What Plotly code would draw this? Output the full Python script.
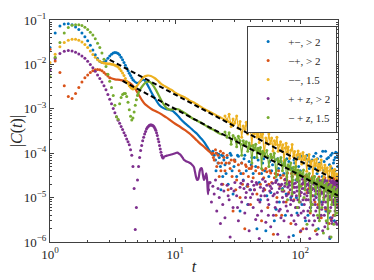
import plotly.graph_objects as go

# ---------------- data ----------------
series_names = ["+−, > 2", "−+, > 2", "−−, 1.5", "+ + <i>z</i>, > 2", "− + <i>z</i>, 1.5"]

x_tick_vals = [1, 10, 100]
x_tick_text = ["10<sup>0</sup>", "10<sup>1</sup>", "10<sup>2</sup>"]
y_tick_vals = [1e-6, 1e-5, 1e-4, 1e-3, 1e-2, 1e-1]
y_tick_text = ["10<sup>−6</sup>", "10<sup>−5</sup>", "10<sup>−4</sup>",
               "10<sup>−3</sup>", "10<sup>−2</sup>", "10<sup>−1</sup>"]

# early, well separated samples (t, |C|)
blue_dots = [(1.0,0.024),(1.1,0.051),(1.2,0.073),(1.3,0.081),(1.4,0.082),(1.5,0.078),(1.6,0.070),
             (1.7,0.061),(1.8,0.051),(1.9,0.042),(2.0,0.034),(2.1,0.027),(2.2,0.021),(2.3,0.0165),
             (2.4,0.0135),(2.5,0.0117),(2.6,0.0110),(2.7,0.0112),(2.8,0.0121),(2.9,0.0138),(3.0,0.0155),
             (3.1,0.0170),(3.2,0.0180),(3.3,0.0185),(3.4,0.0184),(3.5,0.0176),(3.6,0.0162),(3.7,0.0145),
             (3.8,0.0127),(3.9,0.0110),(4.0,0.0096),(4.1,0.0083),(4.2,0.0072),(4.3,0.0063),(4.4,0.0056),
             (4.5,0.0050),(4.6,0.0045)]
orange_dots = [(1.0,0.022),(1.1,0.012),(1.2,0.0066),(1.3,0.0033),(1.4,0.0019),(1.5,0.0017),(1.6,0.0022),
               (1.7,0.0030),(1.8,0.0040),(1.9,0.0050),(2.0,0.0058),(2.1,0.0066),(2.2,0.0072),(2.3,0.0076),
               (2.4,0.0077),(2.5,0.0076),(2.6,0.0072),(2.7,0.0066),(2.8,0.0060),(2.9,0.0055),(3.0,0.0050)]
yellow_dots = [(1.0,0.011),(1.1,0.017),(1.2,0.025),(1.3,0.031),(1.4,0.035),(1.5,0.037),(1.6,0.037),
               (1.7,0.035),(1.8,0.032),(1.9,0.028),(2.0,0.024),(2.1,0.020),(2.2,0.0168),(2.3,0.0145),
               (2.4,0.0128),(2.5,0.0117),(2.6,0.0111),(2.7,0.0107),(2.8,0.0105),(2.9,0.0104),(3.0,0.0103),
               (3.1,0.0101),(3.2,0.0099),(3.3,0.0096),(3.4,0.0092),(3.5,0.0087),(3.6,0.0080),(3.7,0.0072),
               (3.8,0.0064),(3.9,0.0056),(4.0,0.0048),(4.1,0.0042),(4.2,0.0037),(4.3,0.0033),(4.4,0.0031),
               (4.5,0.0029),(4.6,0.0028),(4.7,0.0029),(4.8,0.0030)]
purple_dots = [(1.0,0.0076),(1.1,0.0135),(1.2,0.0175),(1.3,0.0198),(1.4,0.0205),(1.5,0.0200),(1.6,0.0188),
               (1.7,0.0172),(1.8,0.0155),(1.9,0.0137),(2.0,0.0118),(2.1,0.0100),(2.2,0.0084),(2.3,0.0070),
               (2.4,0.0058),(2.5,0.0048),(2.6,0.0040),(2.7,0.0033),(2.8,0.0027),(2.9,0.0021),(3.0,0.00165),
               (3.1,0.0013),(3.2,0.00102),(3.3,0.00082),(3.4,0.00066),(3.5,0.00055),(3.6,0.00047),
               (3.7,0.00040),(3.8,0.00034),(3.9,0.00029),(4.0,0.00025),(4.1,0.00021),(4.2,0.00018),
               (4.3,0.000155),(4.4,0.00012),(4.5,0.00009),(4.6,0.00005),(4.7,0.000016),(4.8,0.0000019),
               (4.9,0.000006),(5.0,0.000025),(5.1,0.00005),(5.2,0.00008),(5.3,0.000115),(5.4,0.00015),
               (5.5,0.00019),(5.6,0.00023),(5.7,0.00027),(5.8,0.00031),(5.9,0.00035),(6.0,0.00038),
               (6.1,0.00040),(6.2,0.00042),(6.3,0.00043),(6.4,0.00043),(6.5,0.00043),(6.6,0.00042),
               (6.7,0.00041),(6.8,0.00039),(6.9,0.00036),(7.0,0.00033),(7.1,0.00029),(7.2,0.00025),
               (7.3,0.00021),(7.4,0.00018),(7.5,0.00015),(7.6,0.000125),(7.7,0.000105),(7.8,0.00009),
               (7.9,0.000082),(8.0,0.000078)]
green_dots = [(1.0,0.0053),(1.1,0.0145),(1.2,0.031),(1.3,0.051),(1.4,0.068),(1.5,0.076),(1.6,0.078),
              (1.7,0.078),(1.8,0.075),(1.9,0.069),(2.0,0.061),(2.1,0.053),(2.2,0.046),(2.3,0.038),
              (2.4,0.030),(2.5,0.024),(2.6,0.018),(2.7,0.013),(2.8,0.0090),(2.9,0.0060),(3.0,0.0042),
              (3.1,0.0030),(3.2,0.0020),(3.3,0.0012),(3.4,0.00066),(3.5,0.00058),(3.6,0.0013),
              (3.7,0.0018),(3.8,0.0021),(3.9,0.0022),(4.0,0.0022),(4.1,0.0019),(4.2,0.0014),
              (4.3,0.00095),(4.4,0.00068),(4.5,0.00056),(4.6,0.00062),(4.7,0.00085),(4.8,0.0012),
              (4.9,0.0016),(5.0,0.0020)]

# later, densely sampled stretches that merge into a solid curve (t, |C|)
blue_curve = [(4.6,0.0045),(4.8,0.0040),(5.0,0.0038),(5.2,0.0040),(5.4,0.0044),(5.6,0.0045),(5.8,0.0041),
              (6.0,0.0035),(6.3,0.0027),(6.6,0.0021),(7.0,0.0016),(7.5,0.0012),(8.0,0.00105),(8.5,0.00098),
              (9.0,0.00095),(9.5,0.00090),(10,0.00080),(10.5,0.00070),(11,0.00060),(12,0.00047),(13,0.00039),
              (14,0.00032),(15,0.00027),(16,0.00022),(17,0.00018),(18,0.00014),(19,0.00011),(20,0.00009)]
orange_curve = [(3.0,0.0050),(3.3,0.0046),(3.6,0.0045),(3.9,0.0043),(4.2,0.0040),(4.5,0.0035),(4.8,0.0028),
                (5.1,0.0021),(5.4,0.0016),(5.7,0.0013),(6.0,0.00115),(6.5,0.00098),(7.0,0.00088),(7.5,0.00080),
                (8.0,0.00071),(8.5,0.00064),(9.0,0.00057),(10,0.00046),(11,0.00039),(12,0.00033),(13,0.00028),
                (14,0.00023),(15,0.00019),(16,0.00016),(17,0.00014),(18,0.00012),(19,0.000105),(20,0.00009)]
yellow_curve = [(4.8,0.0030),(5.0,0.0034),(5.3,0.0043),(5.6,0.0052),(6.0,0.0056),(6.4,0.0055),(6.8,0.0050),
                (7.2,0.0044),(7.6,0.0038),(8.0,0.0034),(8.5,0.0031),(9.0,0.0028),(9.5,0.0026),(10,0.0023),
                (11,0.0020),(12,0.0018),(13,0.00155),(14,0.0014),(15,0.00125),(16,0.00112),(17,0.00100),
                (18,0.00092),(19,0.00085),(20,0.00079),(22,0.00068),(24,0.00060),(26,0.00053),(28,0.00048),
                (30,0.00044)]
purple_curve = [(8.0,0.000078),(8.2,0.000084),(8.6,0.000088),(9.0,0.000091),(9.5,0.000095),(10.0,0.0001),
                (10.4,0.000103),(10.8,0.000096),(11.1,0.00009),(11.5,0.000078),(11.8,0.00007),(12.2,0.000066),
                (12.5,0.000064),(12.9,0.000062),(13.3,0.000059),(13.7,0.000054),(14.1,0.000049),(14.4,0.000038),
                (14.7,0.000029),(15.0,0.000025),(15.3,0.000026),(15.7,0.000039),(16.0,0.000045),(16.3,0.000046),
                (16.6,0.000035),(17.0,0.000025),(17.3,0.000028),(17.7,0.000035),(18.0,0.000025),(18.3,0.000012),
                (18.6,0.000022),(19.0,0.00002)]
green_curve = [(5.0,0.0020),(5.2,0.0026),(5.5,0.0033),(5.8,0.0039),(6.0,0.0041),(6.3,0.0040),(6.6,0.0035),
               (7.0,0.0027),(7.4,0.0020),(7.8,0.0015),(8.2,0.0012),(8.6,0.00102),(9.0,0.00096),(9.5,0.00097),
               (10.0,0.00100),(10.5,0.00098),(11,0.00092),(12,0.00080),(13,0.00068),(14,0.00059),(15,0.00054),
               (16,0.00049),(17,0.00044),(18,0.00040),(19,0.00036),(20,0.00034),(22,0.00029),(24,0.00026)]

# late, noise dominated samples (t, |C|)
blue_noise = [(20.5,9e-5),(21,7e-5),(21.5,1e-4),(22,6e-5),(22.5,8e-5),(23,5e-5),(23.5,9e-5),(24,3e-5),
              (24.5,7e-5),(25,5.5e-5),(26,8e-5),(26.5,2e-5),(27,6e-5),(28,9e-5),(28.5,4e-5),(29,1.2e-5),
              (30,7e-5),(31,3e-5),(32,8.5e-5),(33,5e-6),(34,6e-5),(35,2.5e-5),(36,9e-5),(37,4e-5),(38,7e-6),
              (39,6.5e-5),(40,1.5e-5),(41,8e-5),(42,3.5e-5),(44,5e-5),(45,2e-6),(46,7e-5),(47,2.2e-5),
              (48,9e-6),(50,6e-5),(52,4e-5),(53,1.8e-6),(55,8e-5),(56,3e-5),(58,1.3e-5),(60,5.5e-5),(62,3e-6),
              (63,7e-5),(65,2.5e-5),(67,4.5e-5),(68,8e-6),(70,6.5e-5),(72,1.6e-5),(74,3.5e-5),(76,4e-6),
              (78,7.5e-5),(80,2e-5),(82,5e-5),(84,1e-5),(86,3e-5),(88,1.4e-6),(90,6e-5),(92,2.5e-5),
              (94,4.5e-6),(96,8e-5),(98,1.8e-5),(100,4e-5),(103,7e-6),(105,6e-5),(108,2.2e-5),(110,3e-6),
              (113,9e-5),(116,1.3e-5),(118,4.5e-5),(121,6e-6),(124,7e-5),(127,2.8e-5),(130,1.1e-5),(133,1e-4),
              (136,3.5e-5),(139,2e-6),(142,6e-5),(145,1.7e-5),(148,8e-6),(151,1.1e-4),(154,4e-5),(157,2.4e-5),
              (160,5e-6),(163,7.5e-5),(166,1.5e-5),(169,3e-5),(172,1.2e-6),(175,9e-5),(178,4.5e-5),
              (181,1.2e-5),(184,6e-5),(187,3e-6),(190,8e-5),(193,2.6e-5),(196,1e-4),(199,5e-5),
              (20,1.1e-4),(21.2,4e-5),(22.3,9.5e-5),(23.2,1.5e-5),(24.2,8.5e-5),(25.5,3.5e-5),(27.5,1e-4),
              (29.5,5e-5),(31.5,9e-5),(33.5,3.5e-5),(35.5,7.5e-5),(37.5,1.8e-5),(40.5,5.5e-5),(43,8e-5),
              (49,3.5e-5),(51,7.5e-5),(54,1.1e-5),(57,6.5e-5),(59,4e-5),(64,5.5e-6),(66,7.5e-5),(69,3.2e-5),
              (73,5.5e-5),(77,1.2e-5),(81,6.5e-5),(85,4.5e-5),(89,7e-5),(93,1e-5),(97,5e-5),(101,8.5e-5),
              (107,3e-5),(111,7.5e-5),(115,4e-6),(119,6.5e-5),(123,1.6e-5),(128,8.5e-5),(131,4.5e-5),
              (137,7.5e-5),(141,9e-6),(146,8.5e-5),(150,3e-5),(155,6.5e-5),(159,1.1e-4),(162,1.8e-5),
              (168,8e-5),(171,5.5e-5),(174,3.5e-6),(180,1e-4),(183,2.2e-5),(186,7e-5),(189,4e-5),
              (192,1.05e-4),(195,8e-6),(198,8e-5)]
orange_noise = [(20,1e-4),(20.5,7e-5),(21,1.2e-4),(21.5,5e-5),(22,9e-5),(22.5,3e-5),(23,1.1e-4),(23.5,6e-5),
                (24,2e-5),(24.5,8e-5),(25,4e-5),(26,9e-5),(26.5,1.5e-5),(27,6e-5),(28,7e-5),(28.5,3e-5),
                (29,5e-6),(30,6.5e-5),(31,2.5e-5),(32,5.5e-5),(33,1e-5),(34,6e-5),(35,3.5e-5),(36,2e-6),
                (37,5e-5),(38,1.8e-5),(39,4.5e-5),(40,7e-6),(41,5e-5),(42,2.8e-5),(44,4e-5),(45,1.2e-5),
                (46,4.8e-5),(48,2e-5),(49,3e-6),(50,4.2e-5),(52,1.5e-5),(54,3.8e-5),(55,6e-6),(57,4e-5),
                (59,2.2e-5),(61,1.5e-6),(63,3.5e-5),(65,1e-5),(67,4e-5),(69,1.8e-5),(71,4e-6),(73,3.2e-5),
                (75,2.5e-5),(77,8e-6),(79,3.6e-5),(81,1.3e-5),(84,2.6e-6),(86,3e-5),(88,1.7e-5),(91,3.4e-5),
                (93,6e-6),(96,2.8e-5),(99,1.2e-5),(102,3.2e-5),(105,2e-6),(108,2.4e-5),(111,9e-6),(114,3e-5),
                (117,1.6e-5),(120,4.5e-6),(123,2.7e-5),(126,1.1e-5),(129,3e-5),(132,1.8e-6),(135,2.2e-5),
                (138,7e-6),(141,2.9e-5),(144,1.4e-5),(147,3.5e-6),(150,2.5e-5),(154,1e-5),(157,2.8e-5),
                (160,5.5e-6),(164,2.3e-5),(167,1.5e-5),(170,2.6e-6),(174,2.7e-5),(177,9e-6),(181,2.1e-5),
                (184,4e-6),(188,2.6e-5),(191,1.2e-5),(195,2.3e-5),(198,7e-6),
                (20.2,8e-5),(21.2,1e-4),(22.2,6e-5),(23.2,4e-5),(24.2,1e-4),(25.5,6e-5),(27.5,4.5e-5),
                (29.5,7e-5),(30.5,1.5e-5),(32.5,4e-5),(34.5,2e-5),(36.5,5.5e-5),(38.5,3e-5),(40.5,4.5e-5),
                (43,1.5e-5),(47,3.5e-5),(51,2.8e-5),(53,4.5e-5),(56,2e-5),(58,3.6e-5),(62,2.8e-5),(64,4e-6),
                (66,3.3e-5),(70,2.8e-5),(74,1.4e-5),(78,2.9e-5),(82,2.3e-5),(85,3.5e-5),(89,9e-6),(94,2.6e-5),
                (97,3.4e-5),(100,1.7e-6),(104,2e-5),(109,3e-5),(113,1.3e-5),(119,2.5e-5),(125,3e-5),(131,8e-6),
                (137,2.6e-5),(143,2e-5),(149,1.3e-5),(155,2.8e-5),(162,1.7e-5),(169,2.4e-5),(176,3.2e-6),
                (183,2.8e-5),(190,1.9e-5),(197,2.5e-5)]
yellow_noise = [(25,6.9e-4),(26,5.5e-4),(27,7.5e-4),(28,4.0e-4),(29,5.9e-4),(30,4.8e-4),(31,6.9e-4),
                (32,3.65e-4),(33,5.2e-4),(34,2.3e-4),(35,4.1e-4),(36,3.4e-4),(37,5.0e-4),(38,2.7e-4),
                (39,3.8e-4),(40,3.3e-4),(41,1.5e-4),(42,3.6e-4),(43,2.7e-4),(44,4.3e-4),(45,2.3e-4),
                (46,2.9e-4),(47,1.75e-4),(48,3.2e-4),(49,2.3e-4),(50,2.7e-4),(51.5,9e-5),(53,2.2e-4),
                (54.5,1.64e-4),(56,2.7e-4),(57.5,1.66e-4),(59,2.2e-4),(60.5,1.12e-4),(62,1.9e-4),
                (63.5,1.57e-4),(65,2.3e-4),(66.5,1.1e-4),(68,1.53e-4),(69.5,1.82e-4),(71,1.1e-4),
                (72.5,1.55e-4),(74,6.8e-5),(75.5,1.31e-4),(77,1.67e-4),(78.5,1.05e-4),(80,1.38e-4),
                (82,7.6e-5),(84,1.16e-4),(86,1.58e-4),(88,8.4e-5),(90,1.09e-4),(92,4.1e-5),(94,9.1e-5),
                (96,1.12e-4),(98,7.5e-5),(100,9.6e-5),(102.5,5.7e-5),(105,1.04e-4),(107.5,7.1e-5),
                (110,8.6e-5),(112.5,3.9e-5),(115,7.2e-5),(117.5,9.4e-5),(120,5.5e-5),(123,6.7e-5),
                (126,2.8e-5),(129,7.0e-5),(132,5.2e-5),(135,7.4e-5),(138,3.9e-5),(141,5.7e-5),(144,4.2e-5),
                (147,7.0e-5),(150,4.7e-5),(153.5,2.8e-5),(157,5.4e-5),(160.5,3.7e-5),(164,4.7e-5),
                (167.5,2.0e-5),(171,4.0e-5),(174.5,5.1e-5),(178,2.9e-5),(181.5,4.1e-5),(185,3.1e-5),
                (188.5,4.3e-5),(192,2.2e-5),(195.5,3.4e-5),(199,2.9e-5)]
purple_noise = [(18.5,1.5e-5),(19,2.2e-5),(19.5,8e-6),(20,1.8e-5),(20.5,1.2e-5),(21,2.5e-5),(21.5,5e-6),
                (22,1.6e-5),(22.5,1e-5),(23,2.6e-6),(23.5,2e-5),(24,7e-6),(24.5,1.4e-5),(25,3.5e-6),
                (26,1.9e-5),(27,9e-6),(27.5,1.3e-6),(28,1.6e-5),(29,6e-6),(30,2.2e-5),(31,1.1e-5),(32,3e-6),
                (33,1.7e-5),(34,8e-6),(35,2.4e-5),(36,4.5e-6),(37,1.3e-5),(38,2e-5),(39,1.8e-6),(40,1e-5),
                (41,2.3e-5),(42,6e-6),(43,1.5e-5),(44,3.2e-6),(45,2e-5),(46,9e-6),(47,1.2e-6),(48,1.7e-5),
                (49,5e-6),(50,2.6e-5),(52,1.1e-5),(53,2.8e-6),(54,1.9e-5),(56,7e-6),(57,1.4e-5),(58,2.2e-6),
                (60,2.1e-5),(61,4e-6),(62,1.2e-5),(64,2.4e-5),(65,8e-6),(66,1.5e-6),(68,1.6e-5),(69,5.5e-6),
                (71,2e-5),(72,1e-5),(74,3e-6),(75,1.8e-5),(77,6.5e-6),(78,2.5e-5),(80,1.2e-5),(81,1.3e-6),
                (83,1.5e-5),(85,4e-6),(86,2.2e-5),(88,8.5e-6),(90,1.7e-5),(92,2.5e-6),(93,1.1e-5),(95,2.3e-5),
                (97,6e-6),(99,1.4e-5),(101,1.8e-6),(103,2e-5),(105,9e-6),(107,1.6e-5),(109,3.5e-6),
                (111,2.4e-5),(113,1.1e-5),(115,5e-6),(117,1.9e-5),(119,1.2e-6),(121,1.3e-5),(123,2.2e-5),
                (125,7e-6),(127,1.6e-5),(130,3e-6),(132,2e-5),(134,1e-5),(136,1.5e-6),(138,1.7e-5),(140,6e-6),
                (142,2.5e-5),(145,1.2e-5),(147,4e-6),(149,1.9e-5),(152,8e-6),(154,2.3e-5),(157,2.2e-6),
                (159,1.4e-5),(162,2.1e-5),(164,5e-6),(167,1.7e-5),(169,9e-6),(172,1.3e-6),(174,2.4e-5),
                (177,1.1e-5),(179,3.5e-6),(182,1.8e-5),(184,7e-6),(187,2.2e-5),(189,1.5e-5),(192,2.8e-6),
                (194,1.9e-5),(197,9e-6),(199,1.6e-5),
                (26.5,1.1e-5),(29.5,1.4e-5),(31.5,6e-6),(33.5,2.1e-5),(36.5,1e-5),(39.5,1.5e-5),(42.5,1.9e-5),
                (45.5,4e-6),(48.5,1.1e-5),(51,1.6e-5),(55,9e-6),(59,1.6e-5),(63,6e-6),(67,2e-5),(70,3.5e-6),
                (73,1.4e-5),(76,2.1e-5),(79,5e-6),(82,1.9e-5),(84,9e-6),(87,1.3e-5),(89,3e-6),(91,2.1e-5),
                (94,1.4e-5),(96,4e-6),(98,1.9e-5),(100,8e-6),(102,1.3e-5),(104,2.6e-5),(106,5e-6),(108,1.2e-5),
                (110,1.8e-5),(112,2e-6),(114,1.5e-5),(116,9e-6),(118,2.2e-5),(120,6e-6),(122,1.7e-5),
                (124,1.1e-5),(126,2.4e-6),(128,2e-5),(129,9e-6),(131,1.4e-5),(133,5e-6),(135,2.2e-5),
                (137,1.2e-5),(139,3.5e-6),(141,1.8e-5),(143,8e-6),(144,1.5e-5),(146,2.3e-5),(148,5.5e-6),
                (150,1.3e-5),(151,1.8e-6),(153,1.7e-5),(155,1e-5),(156,2.5e-5),(158,6e-6),(160,1.6e-5),
                (161,1.1e-5),(163,2.7e-6),(165,2e-5),(166,1.3e-5),(168,4.5e-6),(170,1.9e-5),(171,1e-5),
                (173,1.5e-5),(175,6e-6),(176,2.2e-5),(178,1.7e-5),(180,2.6e-6),(181,1.3e-5),(183,2.4e-5),
                (185,9e-6),(186,1.6e-5),(188,4e-6),(190,1.2e-5),(191,2e-5),(193,7e-6),(195,1.5e-5),
                (196,2.5e-6),(198,2.1e-5),(200,1.1e-5),
                (35.5,1.6e-5),(38.5,7e-6),(41.5,1.2e-5),(44.5,2.2e-5),(47.5,8e-6),(50.5,1.4e-5),(52.5,2.3e-5),
                (55.5,4e-6),(57.5,1.8e-5),(60.5,1.1e-5),(63.5,2.2e-5),(65.5,1.3e-5),(67.5,5e-6),(69.5,1.9e-5),
                (71.5,1.4e-5),(73.5,8e-6),(75.5,2.6e-5),(77.5,1.1e-5),(79.5,1.7e-5),(81.5,2.2e-5),(83.5,7e-6),
                (85.5,1.1e-5),(87.5,2e-5),(89.5,1.3e-5),(91.5,6e-6),(93.5,1.7e-5),(95.5,9e-6),(97.5,2.4e-5),
                (99.5,1.1e-5),(101.5,4.5e-6),(103.5,1.6e-5),(105.5,2.2e-5),(107.5,7e-6),(109.5,1.5e-5),
                (111.5,9e-6),(113.5,2e-5),(115.5,1.3e-5),(117.5,3e-6),(119.5,1.8e-5),(121.5,8e-6),
                (123.5,1.5e-5),(125.5,2.3e-5),(127.5,4e-6),(129.5,1.6e-5),(131.5,7e-6),(133.5,2.1e-5),
                (135.5,1.4e-5),(137.5,6e-6),(139.5,2.3e-5),(141.5,1.1e-5),(143.5,4e-6),(145.5,1.8e-5),
                (147.5,1.3e-5),(149.5,7e-6),(151.5,2.1e-5),(153.5,1.2e-5),(155.5,4e-6),(157.5,1.9e-5),
                (159.5,8e-6),(161.5,1.5e-5),(163.5,2.4e-5),(165.5,6e-6),(167.5,1.3e-5),(169.5,2e-5),
                (171.5,5e-6),(173.5,1.1e-5),(175.5,1.7e-5),(177.5,3e-6),(179.5,2.2e-5),(181.5,8e-6),
                (183.5,1.4e-5),(185.5,2e-5),(187.5,1.1e-5),(189.5,5e-6),(191.5,1.6e-5),(193.5,2.3e-5),
                (195.5,1.2e-5),(197.5,6e-6),(199.5,1.8e-5)]
green_noise = [(25,3.0e-4),(26,2.3e-4),(27,2.9e-4),(28,1.6e-4),(29,2.5e-4),(30,2.2e-4),(31,1.4e-4),(32,2.4e-4),
               (33,1.9e-4),(34,9e-5),(35,1.9e-4),(36,1.5e-4),(37,1.8e-4),(38,1.1e-4),(39,1.7e-4),(40,1.45e-4),
               (41,6e-5),(42,1.5e-4),(43,1.2e-4),(44,1.6e-4),(45,8e-5),(46,1.3e-4),(47,1.05e-4),(48,1.35e-4),
               (49,4.5e-5),(50,1.1e-4),(52,9e-5),(54,1.15e-4),(56,5e-5),(58,9.5e-5),(60,8e-5),(62,1e-4),
               (64,3e-5),(66,7.5e-5),(68,6.5e-5),(70,8e-5),(72,4e-5),(74,6e-5),(76,7e-5),(78,2e-5),(80,5.5e-5),
               (82,4.5e-5),(84,6e-5),(86,1.2e-5),(88,4.8e-5),(90,4e-5),(92,5e-5),(94,2.5e-5),(96,4.2e-5),
               (98,8e-6),(100,3.8e-5),(103,3.2e-5),(106,4.2e-5),(109,1.5e-5),(112,3.3e-5),(115,2.6e-5),
               (118,3.5e-5),(121,5e-6),(124,2.8e-5),(127,2.2e-5),(130,3e-5),(133,1.2e-5),(136,2.4e-5),
               (139,2.7e-5),(142,3e-6),(145,2.2e-5),(148,1.8e-5),(151,2.5e-5),(154,9e-6),(157,1.9e-5),
               (160,1.5e-5),(163,2.1e-5),(166,2e-6),(169,1.7e-5),(172,1.3e-5),(175,1.9e-5),(178,7e-6),
               (181,1.5e-5),(184,1.2e-5),(187,1.7e-5),(190,4e-6),(193,1.35e-5),(196,1.1e-5),(199,1.5e-5)]
green_low = [(72,1.5e-5),(79,9e-6),(87,2.5e-5),(95,6e-6),(101,1.8e-5),(107,1e-5),(113,2.5e-6),(119,1.4e-5),
             (125,7e-6),(131,1.7e-5),(137,4e-6),(143,1.1e-5),(149,6e-6),(155,1.4e-5),(161,3e-6),(167,9e-6),
             (173,5e-6),(179,1.1e-5),(185,2.5e-6),(191,8e-6),(197,4.5e-6),(153,1.6e-6),(176,1.3e-6),(135,1.9e-6),
             (30.5,2e-4),(33.5,1.6e-4),(36.5,1.7e-4),(39.5,1.3e-4),(42.5,1.3e-4),(45.5,1.15e-4),(48.5,1e-4),
             (51,1e-4),(55,8.5e-5),(59,8e-5),(63,7e-5),(67,6.5e-5),(71,5.5e-5),(75,5.3e-5),(79,4.8e-5),
             (83,4.3e-5),(87,4e-5),(91,3.6e-5),(95,3.5e-5),(99,3.1e-5),(104,3e-5),(110,2.7e-5),(116,2.5e-5),
             (122,2.3e-5),(128,2.2e-5),(134,2e-5),(140,1.9e-5),(146,1.8e-5),(152,1.7e-5),(158,1.6e-5),
             (164,1.5e-5),(170,1.45e-5),(176,1.35e-5),(182,1.3e-5),(188,1.25e-5),(194,1.2e-5),(200,1.1e-5)]

# power-law guides ~ t^(-3/2)
fit_upper_t = [3.0, 200]
fit_upper_c = [0.0127, 2.33e-5]
fit_lower_t = [3.8, 200]
fit_lower_c = [0.00424, 1.11e-5]

# ---------------- styling ----------------
colors = ["#0072BD", "#D95319", "#EDB120", "#7E2F8E", "#77AC30"]
FONT = "Liberation Serif"

def xs(pairs):
    return [p[0] for p in pairs]

def ys(pairs):
    return [p[1] for p in pairs]

series = [
    (blue_dots, blue_curve, [blue_noise]),
    (orange_dots, orange_curve, [orange_noise]),
    (yellow_dots, yellow_curve, [yellow_noise]),
    (purple_dots, purple_curve, [purple_noise]),
    (green_dots, green_curve, [green_noise, green_low]),
]

fig = go.Figure()
for i, (dots, curve, noises) in enumerate(series):
    col = colors[i]
    fig.add_trace(go.Scatter(x=xs(dots), y=ys(dots), mode="markers", name=series_names[i],
                             marker=dict(color=col, size=3, line=dict(width=0))))
    fig.add_trace(go.Scatter(x=xs(curve), y=ys(curve), mode="lines", showlegend=False,
                             line=dict(color=col, width=2.2, shape="spline"), hoverinfo="skip"))
    for j, nz in enumerate(noises):
        banded = (i in (2, 4)) and j == 0
        fig.add_trace(go.Scatter(x=xs(nz), y=ys(nz), mode="lines+markers" if banded else "markers",
                                 showlegend=False,
                                 line=dict(color=col, width=1.2),
                                 marker=dict(color=col, size=3, line=dict(width=0))))

fig.add_trace(go.Scatter(x=fit_upper_t, y=fit_upper_c, mode="lines", showlegend=False,
                         line=dict(color="black", width=2, dash="5px,3px")))
fig.add_trace(go.Scatter(x=fit_lower_t, y=fit_lower_c, mode="lines", showlegend=False,
                         line=dict(color="black", width=2, dash="5px,3px")))

minor_x = [m * 10 ** e for e in range(0, 3) for m in range(2, 10) if m * 10 ** e <= 200]
minor_y = [m * 10.0 ** e for e in range(-6, -1) for m in range(2, 10)]

axis_common = dict(showline=True, linecolor="#404040", linewidth=1, mirror="ticks",
                   ticks="inside", ticklen=4, tickcolor="#404040", showgrid=False, zeroline=False,
                   automargin=False,
                   tickfont=dict(family=FONT, size=13, color="#262626"))

fig.update_xaxes(type="log", range=[0, 2.301], tickmode="array", tickvals=x_tick_vals,
                 ticktext=x_tick_text,
                 minor=dict(tickmode="array", tickvals=minor_x, ticks="inside", ticklen=2,
                            tickcolor="#404040", showgrid=False),
                 title=dict(text="<i>t</i>", font=dict(family=FONT, size=16, color="#262626"), standoff=0),
                 **axis_common)
fig.update_yaxes(type="log", range=[-6, -1], tickmode="array", tickvals=y_tick_vals,
                 ticktext=y_tick_text,
                 minor=dict(tickmode="array", tickvals=minor_y, ticks="inside", ticklen=2,
                            tickcolor="#404040", showgrid=False),
                 title=dict(text="|<i>C</i>(<i>t</i>)|", font=dict(family=FONT, size=16, color="#262626"),
                            standoff=2),
                 **axis_common)

# the page body adds an 8 px offset, so the figure is sized to keep the plot box in place
fig.update_layout(
    width=366, height=272,
    margin=dict(l=42, r=36, t=12, b=38),
    paper_bgcolor="white", plot_bgcolor="white",
    font=dict(family=FONT, color="#262626"),
    legend=dict(x=0.997, y=0.973, xanchor="right", yanchor="top",
                bgcolor="white", bordercolor="#404040", borderwidth=1,
                font=dict(family=FONT, size=11, color="#262626"),
                itemwidth=30, tracegroupgap=0),
    showlegend=True,
)

fig.write_html("out.html")
